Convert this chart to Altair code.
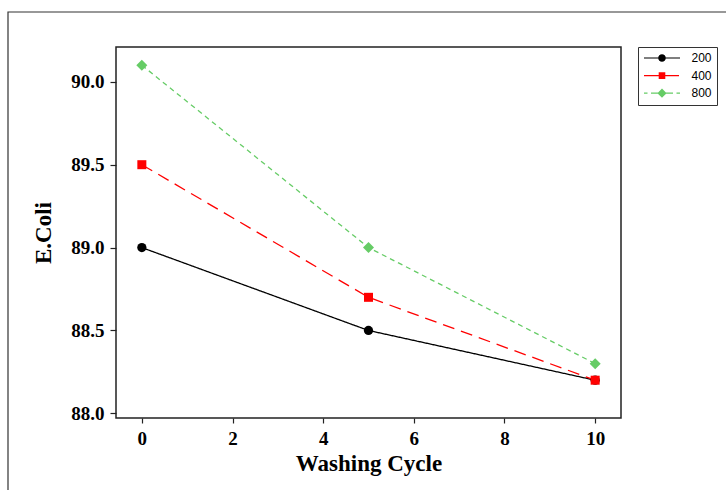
import altair as alt
import pandas as pd

# ---- data ----
cycles = [0, 5, 10]
series_names = ["200", "400", "800"]
vals_200 = [89.0, 88.5, 88.2]
vals_400 = [89.5, 88.7, 88.2]
vals_800 = [90.1, 89.0, 88.3]
x_ticks = [0, 2, 4, 6, 8, 10]
y_ticks = [88.0, 88.5, 89.0, 89.5, 90.0]

# ---- styles ----
colors = ["#000000", "#ff0000", "#66cc66"]
dashes = [[1, 0], [12, 7], [5, 4]]
shapes = ["circle", "square", "diamond"]
sizes = [86, 81, 121]
legend_paths = [
    "M-18,-0.6L-3.6,-0.6L-3.6,0.6L-18,0.6Z M3.6,-0.6L18,-0.6L18,0.6L3.6,0.6Z "
    "M-3.8,0A3.8,3.8 0 1,1 3.8,0A3.8,3.8 0 1,1 -3.8,0Z",
    "M-18,-0.6L-3.3,-0.6L-3.3,0.6L-18,0.6Z M3.3,-0.6L17,-0.6L17,0.6L3.3,0.6Z "
    "M-3.3,-3.3L3.3,-3.3L3.3,3.3L-3.3,3.3Z",
    "M-18,-0.6L-14.5,-0.6L-14.5,0.6L-18,0.6Z M-11,-0.6L-4,-0.6L-4,0.6L-11,0.6Z "
    "M4,-0.6L11,-0.6L11,0.6L4,0.6Z M14.5,-0.6L18,-0.6L18,0.6L14.5,0.6Z "
    "M0,-4.6L4.6,0L0,4.6L-4.6,0Z",
]

rows = []
for name, vals in zip(series_names, [vals_200, vals_400, vals_800]):
    for c, v in zip(cycles, vals):
        rows.append({"cycle": c, "ecoli": v, "series": name})
df = pd.DataFrame(rows)

serif = "Liberation Serif"

x_enc = alt.X(
    "cycle:Q",
    scale=alt.Scale(domain=[-0.57, 10.57], nice=False, zero=False),
    axis=alt.Axis(
        values=x_ticks, format="d", title="Washing Cycle",
        labelFont=serif, labelFontSize=19, labelFontWeight="bold", labelColor="black",
        labelPadding=6, tickSize=5, tickWidth=1.2, tickColor="#222",
        domain=False, grid=False,
        titleFont=serif, titleFontSize=23, titleFontWeight="bold", titleColor="black",
        titlePadding=4,
    ),
)
y_enc = alt.Y(
    "ecoli:Q",
    scale=alt.Scale(domain=[87.972, 90.21], nice=False, zero=False),
    axis=alt.Axis(
        values=y_ticks, format=".1f", title="E.Coli",
        labelFont=serif, labelFontSize=19, labelFontWeight="bold", labelColor="black",
        labelPadding=6, tickSize=6, tickWidth=1.2, tickColor="#222",
        domain=False, grid=False,
        titleFont=serif, titleFontSize=23, titleFontWeight="bold", titleColor="black",
        titlePadding=15,
    ),
)

# plot layers: colour scale (no legend); the legend comes from a separate fill+shape layer
rev_names = series_names[::-1]
color_scale = alt.Scale(domain=rev_names, range=colors[::-1])
dash_scale = alt.Scale(domain=rev_names, range=dashes[::-1])

legend_def = alt.Legend(
    title=None, orient="none", legendX=522, legendY=0,
    direction="vertical",
    labelFont="Liberation Sans", labelFontSize=12, labelColor="black",
    symbolSize=4, symbolStrokeWidth=0, symbolOffset=13, labelOffset=23.5,
    symbolOpacity=1,
    rowPadding=5.6, padding=5,
    strokeColor="#333", fillColor="white",
)

lines = alt.Chart(df).mark_line(strokeWidth=1.3).encode(
    x=x_enc, y=y_enc,
    color=alt.Color("series:N", scale=color_scale, legend=None),
    strokeDash=alt.StrokeDash("series:N", scale=dash_scale, legend=None),
)

point_layers = []
for name, shp, sz in zip(series_names, shapes, sizes):
    point_layers.append(
        alt.Chart(df).transform_filter(alt.datum.series == name)
        .mark_point(filled=True, opacity=1, shape=shp, size=sz)
        .encode(x=x_enc, y=y_enc,
                color=alt.Color("series:N", scale=color_scale, legend=None))
    )

legend_layer = alt.Chart(df).mark_point(filled=True, opacity=0).encode(
    x=x_enc, y=y_enc,
    fill=alt.Fill("series:N", scale=alt.Scale(domain=series_names, range=colors),
                  legend=legend_def),
    shape=alt.Shape("series:N", scale=alt.Scale(domain=series_names, range=legend_paths),
                    legend=legend_def),
)

frame = alt.Chart(pd.DataFrame({"k": [0]})).mark_rect(
    fill=None, stroke="#333", strokeWidth=1.2, clip=False
).encode(
    x=alt.value(-108), x2=alt.value(700), y=alt.value(-35), y2=alt.value(600)
)

chart = alt.layer(frame, legend_layer, lines, *point_layers).properties(
    width=505, height=371,
    autosize=alt.AutoSizeParams(type="none"),
    padding={"left": 116, "top": 47, "right": 105, "bottom": 72},
).configure(
    background="white"
).configure_view(
    stroke="#222", strokeWidth=1.5
)

chart.save("out.html", embed_options={"renderer": "svg", "actions": False})
